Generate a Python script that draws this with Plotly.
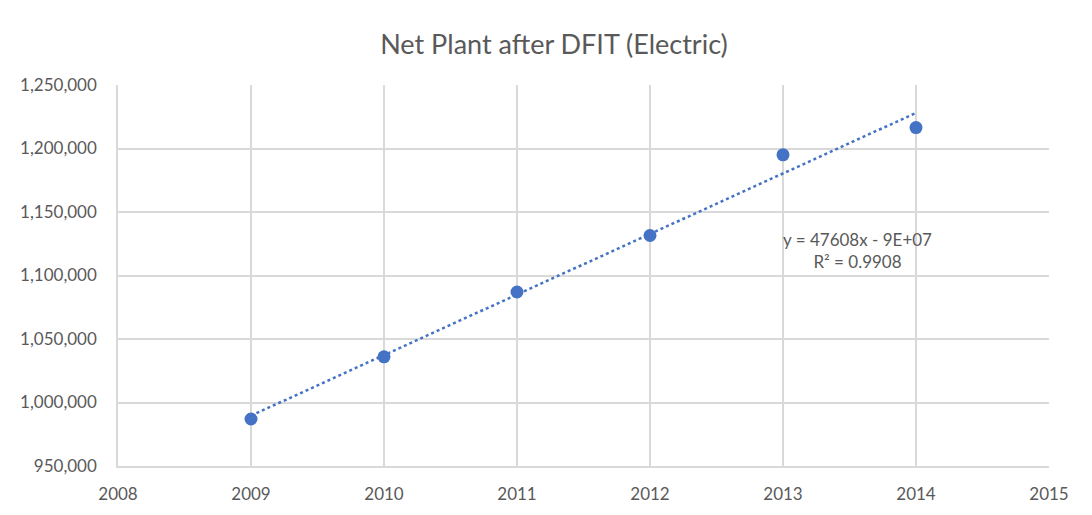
import numpy as np
import plotly.graph_objects as go

# values
years = [2009, 2010, 2011, 2012, 2013, 2014]
net_plant = [987000, 1036000, 1087000, 1131500, 1195000, 1216500]

x_ticks = [2008, 2009, 2010, 2011, 2012, 2013, 2014, 2015]
y_ticks = [950000, 1000000, 1050000, 1100000, 1150000, 1200000, 1250000]
y_tick_labels = ["950,000", "1,000,000", "1,050,000", "1,100,000", "1,150,000", "1,200,000", "1,250,000"]

trend_label = "y = 47608x - 9E+07<br>R² = 0.9908"

BLUE = "#4472C4"
GRID = "#d9d9d9"
TXT = "#595959"
FONT = "Lato, Open Sans, sans-serif"

# linear trend line (Excel-style) fitted from the points
slope, icpt = np.polyfit(years, net_plant, 1)
trend_x = [years[0], years[-1]]
trend_y = [slope * x + icpt for x in trend_x]

fig = go.Figure()
fig.add_trace(go.Scatter(
    x=trend_x, y=trend_y, mode="lines",
    line=dict(color=BLUE, width=2.5, dash="dot"),
    hoverinfo="skip", showlegend=False,
))
fig.add_trace(go.Scatter(
    x=years, y=net_plant, mode="markers",
    marker=dict(color=BLUE, size=13, line=dict(width=0)),
    showlegend=False,
))

fig.add_annotation(
    x=2013.56, y=1119300, text=trend_label, showarrow=False,
    font=dict(family=FONT, size=17, color=TXT), align="center",
)

# the page body adds an 8px offset, so margins are shifted to compensate
fig.update_layout(
    width=1092, height=515,
    paper_bgcolor="white", plot_bgcolor="white",
    margin=dict(l=108, r=51, t=77, b=57),
    title=dict(text="Net Plant after DFIT (Electric)", x=0.5, xanchor="center",
               y=0.93, yanchor="middle",
               font=dict(family=FONT, size=27, color=TXT)),
    font=dict(family=FONT, size=17, color=TXT),
    xaxis=dict(range=[2008, 2015], tickvals=x_ticks, showgrid=True, gridcolor=GRID,
               gridwidth=1.5, showline=True, linecolor=GRID, linewidth=1.5,
               zeroline=False, ticks="", ticklabelstandoff=12,
               tickfont=dict(size=17, color=TXT)),
    yaxis=dict(range=[950000, 1250000], tickvals=y_ticks, ticktext=y_tick_labels,
               showgrid=True, gridcolor=GRID, gridwidth=1.5, showline=True,
               linecolor=GRID, linewidth=1.5, zeroline=False, ticks="",
               ticklabelstandoff=16, tickfont=dict(size=17, color=TXT)),
)

fig.write_html("out.html")
